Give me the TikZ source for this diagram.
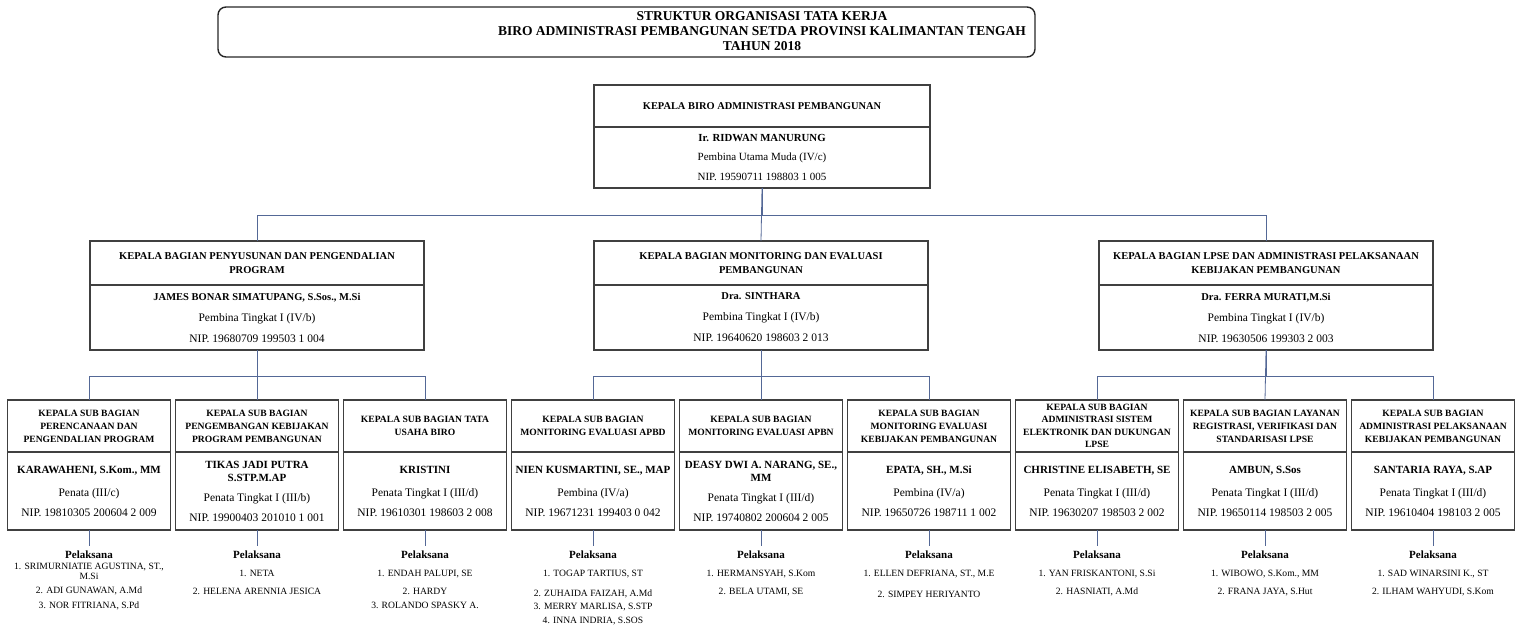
\documentclass[tikz,border=0pt]{standalone}
\usepackage{fontspec}
\setmainfont{Liberation Serif}
\usetikzlibrary{positioning}

\definecolor{boxcol}{RGB}{64,64,64}
\definecolor{linecol}{RGB}{84,104,150}
\newcommand{\fs}[2]{\fontsize{#1}{#2}\selectfont}

\begin{document}
\begin{tikzpicture}[x=1pt, y=-1pt,
    every node/.style={align=center, inner sep=0pt, outer sep=0pt},
    judul/.style={draw=black!85, line width=1.4pt, rounded corners=8pt, minimum width=817pt, minimum height=50pt},
    toph/.style={draw=boxcol, line width=1.2pt, minimum width=336pt, minimum height=42pt, font=\fs{10.4}{13}\bfseries},
    topb/.style={draw=boxcol, line width=1.2pt, minimum width=336pt, minimum height=61pt, font=\fs{11}{19.5}},
    midh/.style={draw=boxcol, line width=1.2pt, minimum width=334pt, minimum height=44pt, font=\fs{10.5}{13.5}\bfseries},
    midb/.style={draw=boxcol, line width=1.2pt, minimum width=334pt, minimum height=65pt, font=\fs{11.5}{21}},
    subh/.style={draw=boxcol, line width=1.2pt, minimum width=163pt, minimum height=52pt, font=\fs{9.6}{13}\bfseries},
    subb/.style={draw=boxcol, line width=1.2pt, minimum width=163pt, minimum height=78pt, font=\fs{11.5}{20}},
    pel/.style={inner ysep=5pt, font=\fs{9.6}{18}},
    conn/.style={draw=linecol, line width=0.8pt}
]
    \useasboundingbox (0,0) rectangle (1522,631);

    % judul
    \node[judul] (jbox) at (626.5,32) {};
    \node[font=\fs{13.5}{15}\bfseries] (jtxt) at (762,31)
        {STRUKTUR ORGANISASI TATA KERJA\\BIRO ADMINISTRASI PEMBANGUNAN SETDA PROVINSI KALIMANTAN TENGAH\\TAHUN 2018};

    % kepala biro
    \node[toph] (biro-h) at (762,106) {KEPALA BIRO ADMINISTRASI PEMBANGUNAN};
    \node[topb, below=0pt of biro-h] (biro-b)
        {\textbf{\fs{10.8}{19.5}Ir. RIDWAN MANURUNG}\\Pembina Utama Muda (IV/c)\\NIP. 19590711 198803 1 005};

    % kepala bagian
    \node[midh] (bag1-h) at (257,263) {KEPALA BAGIAN PENYUSUNAN DAN PENGENDALIAN\\PROGRAM};
    \node[midb, below=0pt of bag1-h] (bag1-b)
        {\textbf{\fs{10.5}{21}JAMES BONAR SIMATUPANG, S.Sos., M.Si}\\Pembina Tingkat I (IV/b)\\NIP. 19680709 199503 1 004};
    \node[midh] (bag2-h) at (761,263) {KEPALA BAGIAN MONITORING DAN EVALUASI\\PEMBANGUNAN};
    \node[midb, below=0pt of bag2-h] (bag2-b)
        {\textbf{\fs{10.5}{21}Dra. SINTHARA}\\Pembina Tingkat I (IV/b)\\NIP. 19640620 198603 2 013};
    \node[midh] (bag3-h) at (1266,263) {KEPALA BAGIAN LPSE DAN ADMINISTRASI PELAKSANAAN\\KEBIJAKAN PEMBANGUNAN};
    \node[midb, below=0pt of bag3-h] (bag3-b)
        {\textbf{\fs{10.5}{21}Dra. FERRA MURATI,M.Si}\\Pembina Tingkat I (IV/b)\\NIP. 19630506 199303 2 003};

    % kepala sub bagian
    \node[subh] (sub1-h) at (89,426) {KEPALA SUB BAGIAN\\PERENCANAAN DAN\\PENGENDALIAN PROGRAM};
    \node[subb, below=0pt of sub1-h] (sub1-b)
        {\textbf{\fs{11}{20}KARAWAHENI, S.Kom., MM}\\[3pt]Penata (III/c)\\NIP. 19810305 200604 2 009};
    \node[subh] (sub2-h) at (257,426) {KEPALA SUB BAGIAN\\PENGEMBANGAN KEBIJAKAN\\PROGRAM PEMBANGUNAN};
    \node[subb, below=0pt of sub2-h] (sub2-b)
        {\textbf{\fs{11}{20}TIKAS JADI PUTRA}\\[-7pt]\textbf{\fs{11}{20}S.STP.M.AP}\\Penata Tingkat I (III/b)\\NIP. 19900403 201010 1 001};
    \node[subh] (sub3-h) at (425,426) {KEPALA SUB BAGIAN TATA\\USAHA BIRO};
    \node[subb, below=0pt of sub3-h] (sub3-b)
        {\textbf{\fs{11}{20}KRISTINI}\\[3pt]Penata Tingkat I (III/d)\\NIP. 19610301 198603 2 008};
    \node[subh] (sub4-h) at (593,426) {KEPALA SUB BAGIAN\\MONITORING EVALUASI APBD};
    \node[subb, below=0pt of sub4-h] (sub4-b)
        {\textbf{\fs{11}{20}NIEN KUSMARTINI, SE., MAP}\\[3pt]Pembina (IV/a)\\NIP. 19671231 199403 0 042};
    \node[subh] (sub5-h) at (761,426) {KEPALA SUB BAGIAN\\MONITORING EVALUASI APBN};
    \node[subb, below=0pt of sub5-h] (sub5-b)
        {\textbf{\fs{11}{20}DEASY DWI A. NARANG, SE.,}\\[-7pt]\textbf{\fs{11}{20}MM}\\Penata Tingkat I (III/d)\\NIP. 19740802 200604 2 005};
    \node[subh] (sub6-h) at (929,426) {KEPALA SUB BAGIAN\\MONITORING EVALUASI\\KEBIJAKAN PEMBANGUNAN};
    \node[subb, below=0pt of sub6-h] (sub6-b)
        {\textbf{\fs{11}{20}EPATA, SH., M.Si}\\[3pt]Pembina (IV/a)\\NIP. 19650726 198711 1 002};
    \node[subh, font=\fs{9.6}{12.4}\bfseries] (sub7-h) at (1097,426) {KEPALA SUB BAGIAN\\ADMINISTRASI SISTEM\\ELEKTRONIK DAN DUKUNGAN\\LPSE};
    \node[subb, below=0pt of sub7-h] (sub7-b)
        {\textbf{\fs{11}{20}CHRISTINE ELISABETH, SE}\\[3pt]Penata Tingkat I (III/d)\\NIP. 19630207 198503 2 002};
    \node[subh] (sub8-h) at (1265,426) {KEPALA SUB BAGIAN LAYANAN\\REGISTRASI, VERIFIKASI DAN\\STANDARISASI LPSE};
    \node[subb, below=0pt of sub8-h] (sub8-b)
        {\textbf{\fs{11}{20}AMBUN, S.Sos}\\[3pt]Penata Tingkat I (III/d)\\NIP. 19650114 198503 2 005};
    \node[subh] (sub9-h) at (1433,426) {KEPALA SUB BAGIAN\\ADMINISTRASI PELAKSANAAN\\KEBIJAKAN PEMBANGUNAN};
    \node[subb, below=0pt of sub9-h] (sub9-b)
        {\textbf{\fs{11}{20}SANTARIA RAYA, S.AP}\\[3pt]Penata Tingkat I (III/d)\\NIP. 19610404 198103 2 005};

    % pelaksana
    \node[pel, below=16pt of sub1-b] (pel1) {\textbf{\fs{11}{18}Pelaksana}\\[-7pt]1. SRIMURNIATIE AGUSTINA, ST.,\\[-8pt]M.Si\\[-4pt]2. ADI GUNAWAN, A.Md\\[-3pt]3. NOR FITRIANA, S.Pd};
    \node[pel, below=16pt of sub2-b] (pel2) {\textbf{\fs{11}{18}Pelaksana}\\1. NETA\\2. HELENA ARENNIA JESICA};
    \node[pel, below=16pt of sub3-b] (pel3) {\textbf{\fs{11}{18}Pelaksana}\\1. ENDAH PALUPI, SE\\2. HARDY\\[-4pt]3. ROLANDO SPASKY A.};
    \node[pel, below=16pt of sub4-b] (pel4) {\textbf{\fs{11}{18}Pelaksana}\\1. TOGAP TARTIUS, ST\\[2pt]2. ZUHAIDA FAIZAH, A.Md\\[-5pt]3. MERRY MARLISA, S.STP\\[-4pt]4. INNA INDRIA, S.SOS};
    \node[pel, below=16pt of sub5-b] (pel5) {\textbf{\fs{11}{18}Pelaksana}\\1. HERMANSYAH, S.Kom\\2. BELA UTAMI, SE};
    \node[pel, below=16pt of sub6-b] (pel6) {\textbf{\fs{11}{18}Pelaksana}\\1. ELLEN DEFRIANA, ST., M.E\\[3pt]2. SIMPEY HERIYANTO};
    \node[pel, below=16pt of sub7-b] (pel7) {\textbf{\fs{11}{18}Pelaksana}\\1. YAN FRISKANTONI, S.Si\\2. HASNIATI, A.Md};
    \node[pel, below=16pt of sub8-b] (pel8) {\textbf{\fs{11}{18}Pelaksana}\\1. WIBOWO, S.Kom., MM\\2. FRANA JAYA, S.Hut};
    \node[pel, below=16pt of sub9-b] (pel9) {\textbf{\fs{11}{18}Pelaksana}\\1. SAD WINARSINI K., ST\\2. ILHAM WAHYUDI, S.Kom};

    % garis
    \draw[conn] (biro-b.south) -- ++(0,27) -| (bag1-h.north);
    \draw[conn] (biro-b.south) -- ++(0,27) -| (bag3-h.north);
    \draw[conn] (biro-b.south) -- (bag2-h.north);
    \foreach \m/\a/\b/\c in {1/1/2/3, 2/4/5/6, 3/7/8/9} {
        \draw[conn] (bag\m-b.south) -- ++(0,26) -| (sub\a-h.north);
        \draw[conn] (bag\m-b.south) -- ++(0,26) -| (sub\c-h.north);
        \draw[conn] (bag\m-b.south) -- (sub\b-h.north);
    }
    \foreach \i in {1,...,9}
        \draw[conn] (sub\i-b.south) -- (pel\i.north);
\end{tikzpicture}
\end{document}
